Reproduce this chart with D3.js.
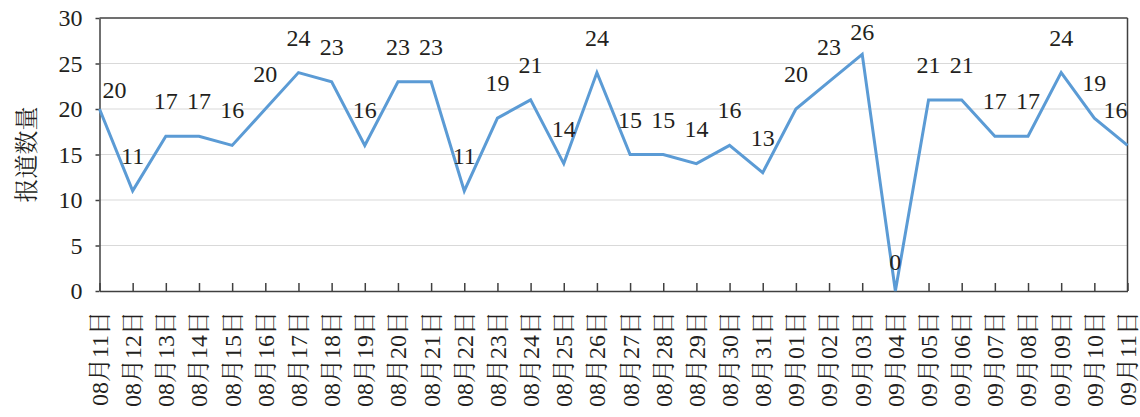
<!DOCTYPE html>
<html><head><meta charset="utf-8">
<script src="https://cdn.jsdelivr.net/npm/d3@7"></script>
<style>
html,body{margin:0;padding:0;background:#fff;}
svg{display:block;}
</style></head>
<body>
<svg id="chart" width="1140" height="417"></svg>
<script>
const categories = ["08月11日","08月12日","08月13日","08月14日","08月15日","08月16日","08月17日","08月18日","08月19日","08月20日","08月21日","08月22日","08月23日","08月24日","08月25日","08月26日","08月27日","08月28日","08月29日","08月30日","08月31日","09月01日","09月02日","09月03日","09月04日","09月05日","09月06日","09月07日","09月08日","09月09日","09月10日","09月11日"];
const values = [20,11,17,17,16,20,24,23,16,23,23,11,19,21,14,24,15,15,14,16,13,20,23,26,0,21,21,17,17,24,19,16];
const yTicks = [0,5,10,15,20,25,30];
const yTitle = "报道数量";

(function () {
const svg = d3.select("#chart");
const pL = 99.5, pR = 1127.5, pT = 18, pB = 291;
const serif = "'Liberation Serif','Noto Serif CJK SC','Noto Sans CJK SC',serif";

const x = d3.scalePoint().domain(categories).range([pL, pR]);
const y = d3.scaleLinear().domain([0, 30]).range([pB, pT]);

// gridlines
svg.append("g").selectAll("line").data(yTicks.filter(t => t > 0 && t < 30)).join("line")
  .attr("x1", pL).attr("x2", pR)
  .attr("y1", d => y(d)).attr("y2", d => y(d))
  .attr("stroke", "#d9d9d9").attr("stroke-width", 1.2);

// frame top & right
svg.append("line").attr("x1", pL).attr("x2", pR).attr("y1", pT).attr("y2", pT)
  .attr("stroke", "#404040").attr("stroke-width", 1.5);
svg.append("line").attr("x1", pR).attr("x2", pR).attr("y1", pT).attr("y2", pB)
  .attr("stroke", "#404040").attr("stroke-width", 1.5);

// y axis
const yAxis = svg.append("g").attr("transform", `translate(${pL},0)`)
  .call(d3.axisLeft(y).tickValues(yTicks).tickSize(4).tickPadding(13).tickSizeOuter(0));
yAxis.attr("font-family", serif);
yAxis.select(".domain").attr("stroke", "#404040").attr("stroke-width", 1.5);
yAxis.selectAll(".tick line").attr("stroke", "#404040").attr("stroke-width", 1.5);
yAxis.selectAll(".tick text").attr("font-family", serif).attr("font-size", 24).attr("fill", "#231f20");

// x axis
const xAxis = svg.append("g").attr("transform", `translate(0,${pB})`)
  .call(d3.axisBottom(x).tickSizeInner(-8).tickSizeOuter(0).tickPadding(0));
xAxis.attr("font-family", serif);
xAxis.select(".domain").attr("stroke", "#404040").attr("stroke-width", 1.5);
xAxis.selectAll(".tick line").attr("stroke", "#404040").attr("stroke-width", 1.5);
xAxis.selectAll(".tick text")
  .attr("font-family", serif).attr("font-size", 24).attr("fill", "#231f20")
  .attr("text-anchor", "end")
  .attr("transform", "translate(0,20) rotate(-90)")
  .attr("x", 0).attr("y", 0).attr("dy", "0.33em");

// y title
svg.append("text")
  .attr("transform", `translate(27,${(pT + pB) / 2}) rotate(-90)`)
  .attr("text-anchor", "middle").attr("dy", "0.35em")
  .attr("font-family", serif).attr("font-size", 24).attr("fill", "#231f20")
  .text(yTitle);

// line
const line = d3.line().x((d, i) => x(categories[i])).y(d => y(d));
svg.append("path").datum(values)
  .attr("d", line).attr("fill", "none")
  .attr("stroke", "#5b9bd5").attr("stroke-width", 3).attr("stroke-linejoin", "miter");

// data labels (a few nudged like the original)
const nudge = {0: [15, -11], 23: [0, -14], 24: [0, -21], 31: [-12, -27]};
svg.append("g").selectAll("text").data(values).join("text")
  .attr("x", (d, i) => x(categories[i]) + (nudge[i] ? nudge[i][0] : 0))
  .attr("y", (d, i) => y(d) + (nudge[i] ? nudge[i][1] : -27))
  .attr("text-anchor", "middle")
  .attr("font-family", serif).attr("font-size", 24).attr("fill", "#231f20")
  .text(d => d);
})();
</script>
</body></html>
